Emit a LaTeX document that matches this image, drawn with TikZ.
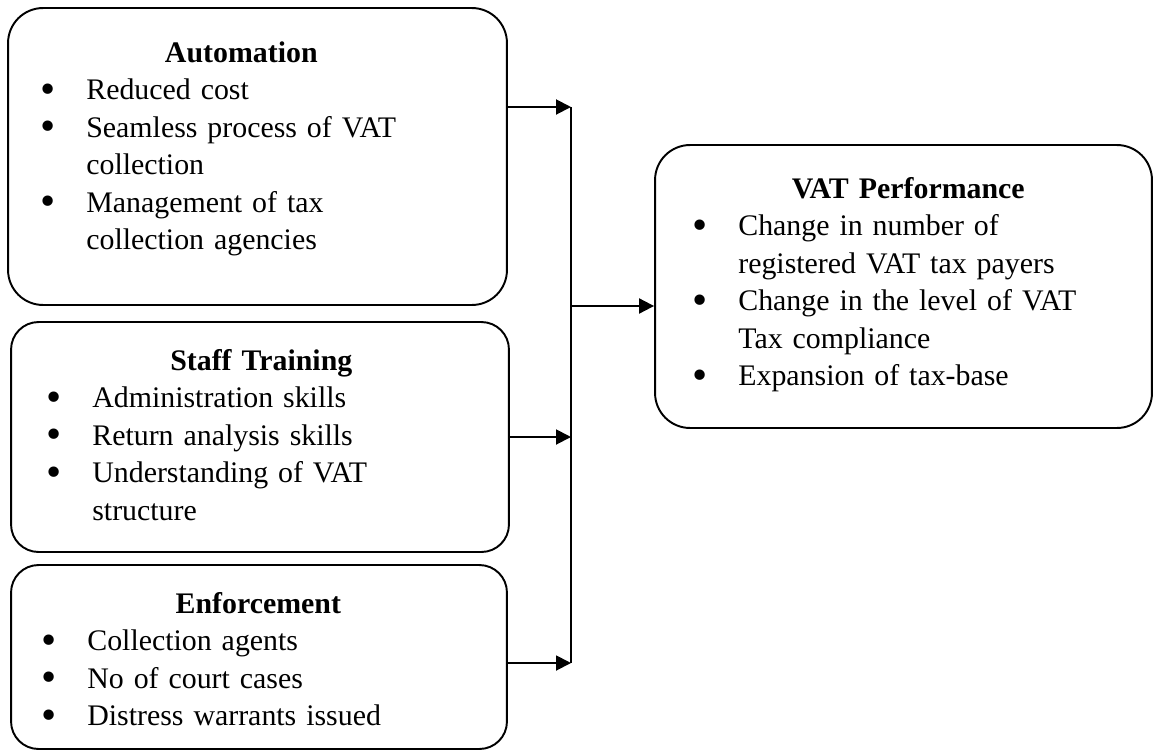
\documentclass[tikz,border=0pt]{standalone}
\usepackage{fontspec}
\setmainfont{Liberation Serif}
\usetikzlibrary{arrows.meta, positioning}

\newlength{\vatind}
\setlength{\vatind}{0.92cm}
\newcommand{\vatfont}{\fontsize{17pt}{21.4pt}\selectfont}
\newcommand{\vathead}[1]{{\centering\bfseries #1\par}}
\newcommand{\vatitem}[1]{\hangindent=\vatind\hangafter=1\noindent
  \makebox[\vatind][l]{\smash{\raisebox{-0.12em}{\scalebox{1.45}{\textbullet}}}}#1\par}

\begin{document}
\begin{tikzpicture}[
  x=0.02cm, y=-0.02cm,
  frame/.style={rectangle, draw=black, line width=1.1pt, inner sep=0pt},
  txt/.style={anchor=base west, inner sep=0pt, align=left, font=\vatfont},
  arr/.style={-{Triangle[length=0.3cm, width=0.3cm]}, line width=1.1pt},
  trunk/.style={line width=1.1pt}
]
  \useasboundingbox (0,0) rectangle (1156,751);

  %% --- Left column: the three drivers ---
  \node[frame, rounded corners=0.7cm, minimum width=9.98cm, minimum height=5.94cm]
    (auto) at (257.5,156.5) {};
  \node[frame, rounded corners=0.55cm, minimum width=9.96cm, minimum height=4.6cm]
    (staff) at (260,437) {};
  \node[frame, rounded corners=0.55cm, minimum width=9.92cm, minimum height=3.68cm]
    (enforce) at (259,657) {};

  %% --- Right: outcome box ---
  \node[frame, rounded corners=0.7cm, minimum width=9.94cm, minimum height=5.66cm]
    (perf) at (903.5,286.5) {};

  %% --- Box texts ---
  \node[txt, text width=8.04cm] (autotxt) at (40,62)
    {\vathead{Automation}%
     \vatitem{Reduced cost}%
     \vatitem{Seamless process of VAT\newline collection}%
     \vatitem{Management of tax\newline collection agencies}};
  \node[txt, text width=8.6cm] (stafftxt) at (46,370)
    {\vathead{Staff Training}%
     \vatitem{Administration skills}%
     \vatitem{Return analysis skills}%
     \vatitem{Understanding of VAT\newline structure}};
  \node[txt, text width=8.68cm] (enforcetxt) at (41,613)
    {\vathead{Enforcement}%
     \vatitem{Collection agents}%
     \vatitem{No of court cases}%
     \vatitem{Distress warrants issued}};
  \node[txt, text width=8.64cm] (perftxt) at (692,198)
    {\vathead{VAT Performance}%
     \vatitem{Change in number of\newline registered VAT tax payers}%
     \vatitem{Change in the level of VAT\newline Tax compliance}%
     \vatitem{Expansion of tax-base}};

  %% --- Junction line ---
  \coordinate (jtop) at (571,107);
  \coordinate (jout) at (571,306);
  \coordinate (jbot) at (571,663);

  %% --- Arrows ---
  \draw[arr] (auto.east |- jtop) -- (jtop);
  \draw[arr] (staff.east) -- (staff.east -| jtop);
  \draw[arr] (enforce.east |- jbot) -- (jbot);
  \draw[trunk] (jtop) -- (jbot);
  \draw[arr] (jout) -- (perf.west |- jout);

\end{tikzpicture}
\end{document}
